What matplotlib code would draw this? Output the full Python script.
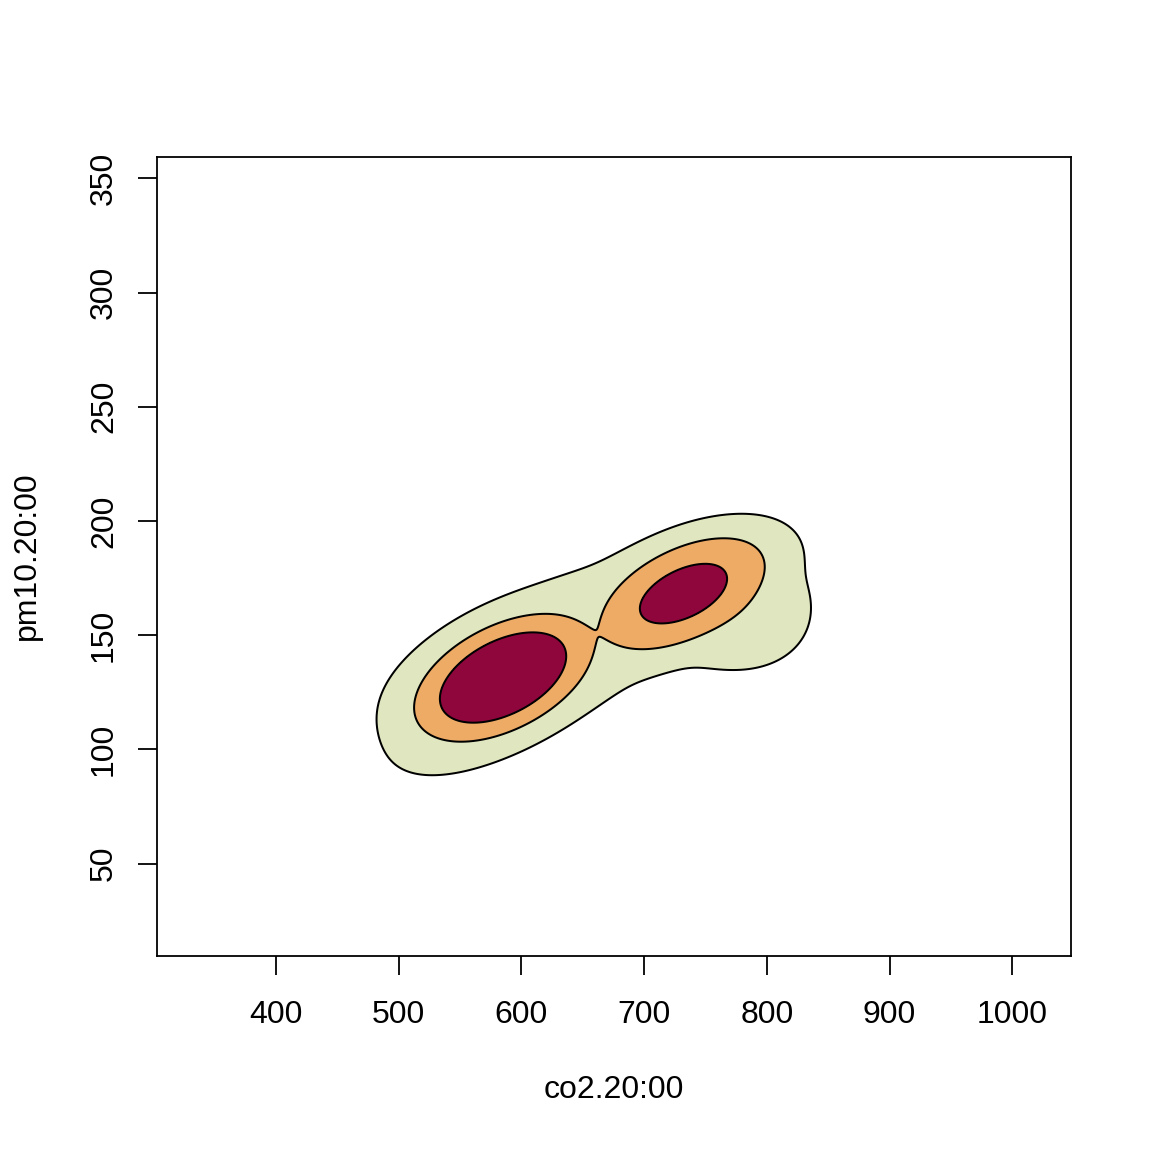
import numpy as np
import matplotlib
matplotlib.use("Agg")  # headless
import matplotlib.pyplot as plt

plt.rcParams['font.family'] = ['Liberation Sans', 'DejaVu Sans']

# ── Density surface: bumps (centre, spread, correlation, log peak height) ──
# two main modes, then three low broad bumps that shape the outer contour
bump_x = [585.0, 732.0, 644.9, 773.3, 592.6]
bump_y = [131.5, 168.2, 150.1, 161.4, 124.9]
bump_sx = [22.5, 24.6, 144.7, 27.6, 42.4]
bump_sy = [8.64, 9.05, 37.12, 12.01, 16.46]
bump_rho = [0.47, 0.50, 0.667, -0.133, 0.679]
bump_logpeak = [2.6, 1.03, -5.00, -3.59, -3.60]

# contour levels (log density) and fills, low -> high
levels = [-5.5, -2.5, 0.0]
fill_colors = ['#E0E6BF', '#EDAB65', '#8E063B']

xticks = [400, 500, 600, 700, 800, 900, 1000]
yticks = [50, 100, 150, 200, 250, 300, 350]
xlim = (303.3, 1047.9)
ylim = (9.8, 359.2)
xlabel = 'co2.20:00'
ylabel = 'pm10.20:00'


def log_density(X, Y):
    terms = []
    for mx, my, sx, sy, r, lp in zip(bump_x, bump_y, bump_sx, bump_sy,
                                     bump_rho, bump_logpeak):
        dx = (X - mx) / sx
        dy = (Y - my) / sy
        m2 = (dx**2 - 2 * r * dx * dy + dy**2) / (1 - r**2)
        terms.append(lp - 0.5 * m2)
    terms = np.stack(terms)
    top = terms.max(axis=0)
    return top + np.log(np.exp(terms - top).sum(axis=0))


gx = np.linspace(xlim[0], xlim[1], 800)
gy = np.linspace(ylim[0], ylim[1], 800)
X, Y = np.meshgrid(gx, gy)
Z = log_density(X, Y)

fig = plt.figure(figsize=(8, 8), dpi=144)
ax = fig.add_axes([157.3 / 1152, 1 - 955.5 / 1152,
                   (1071 - 157.3) / 1152, (955.5 - 157.3) / 1152])

ax.contourf(X, Y, Z, levels=levels + [Z.max() + 1], colors=fill_colors)
ax.contour(X, Y, Z, levels=levels, colors='black', linewidths=1.0,
           linestyles='solid')

ax.set_xlim(*xlim)
ax.set_ylim(*ylim)
ax.set_xticks(xticks)
ax.set_yticks(yticks)
ax.tick_params(direction='out', length=9.7, width=0.9, labelsize=16,
               colors='black')
ax.tick_params(axis='x', pad=12.5)
ax.tick_params(axis='y', pad=9.5)
for lbl in ax.get_yticklabels():
    lbl.set_rotation(90)
    lbl.set_va('center')
for sp in ax.spines.values():
    sp.set_linewidth(0.9)

fig.text(614 / 1152, 1 - 1090 / 1152, xlabel, ha='center', va='center',
         fontsize=16)
fig.text(27 / 1152, 1 - 556 / 1152, ylabel, ha='center', va='center',
         rotation=90, fontsize=16)

fig.savefig('out.png', dpi=144)
plt.close(fig)
